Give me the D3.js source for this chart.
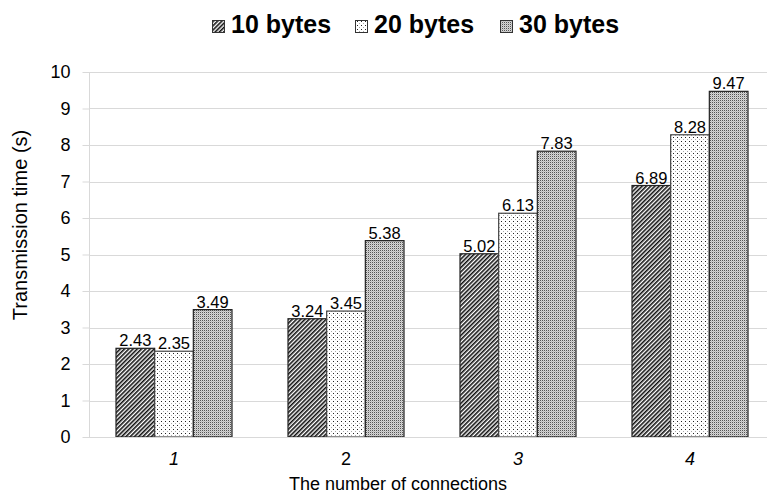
<!DOCTYPE html>
<html><head><meta charset="utf-8">
<script src="https://cdn.jsdelivr.net/npm/d3@7"></script>
<style>body{margin:0;background:#fff}svg{display:block;font-family:Arial,"Liberation Sans",sans-serif}</style>
</head><body><svg id="c" width="767" height="493"></svg>
<script>
const categories = ["1","2","3","4"];
const seriesNames = ["10 bytes","20 bytes","30 bytes"];
const bytes10 = [2.43,3.24,5.02,6.89];
const bytes20 = [2.35,3.45,6.13,8.28];
const bytes30 = [3.49,5.38,7.83,9.47];
const yTicks = [0,1,2,3,4,5,6,7,8,9,10];
const series = [bytes10, bytes20, bytes30];

const svg = d3.select("#c");
const defs = svg.append("defs");
// pattern 10 bytes: diagonal hatch
const p1 = defs.append("pattern").attr("id","p0").attr("width",3).attr("height",3)
  .attr("patternUnits","userSpaceOnUse").attr("patternTransform","rotate(45)");
p1.append("rect").attr("width",3).attr("height",3).attr("fill","#fff");
p1.append("rect").attr("width",1.6).attr("height",3).attr("fill","#111");
// pattern 20 bytes: sparse dots
const p2 = defs.append("pattern").attr("id","p1").attr("width",4).attr("height",4).attr("patternUnits","userSpaceOnUse");
p2.append("rect").attr("width",4).attr("height",4).attr("fill","#fff");
p2.append("rect").attr("x",1).attr("y",1).attr("width",1).attr("height",1).attr("fill","#222");
p2.append("rect").attr("x",3).attr("y",3).attr("width",1).attr("height",1).attr("fill","#aaa");
// pattern 30 bytes: grey fine dots
const p3 = defs.append("pattern").attr("id","p2").attr("width",2).attr("height",2).attr("patternUnits","userSpaceOnUse");
p3.append("rect").attr("width",2).attr("height",2).attr("fill","#d6d6d6");
p3.append("rect").attr("x",0).attr("y",0).attr("width",1).attr("height",1).attr("fill","#555");
p3.append("rect").attr("x",1).attr("y",1).attr("width",1).attr("height",1).attr("fill","#bbb");

const x = d3.scaleBand().domain(categories).range([88,776]).padding(0);
const groupW = 116;
const xs = d3.scaleBand().domain(d3.range(series.length)).range([0,groupW]).padding(0);
const y = d3.scaleLinear().domain([0,10]).range([437,72]);

// gridlines
svg.append("g").selectAll("line").data(yTicks.slice(1)).join("line")
  .attr("x1",89).attr("x2",767).attr("y1",d=>Math.round(y(d))+0.5).attr("y2",d=>Math.round(y(d))+0.5)
  .attr("stroke","#d9d9d9").attr("stroke-width",1);
// y axis
const yAxis = d3.axisLeft(y).tickValues(yTicks).tickSize(7).tickPadding(12).tickFormat(d3.format("d"));
const gy = svg.append("g").attr("transform","translate(89.5,0)").call(yAxis);
gy.select(".domain").attr("stroke","#d9d9d9").attr("d","M0,72V437");
gy.selectAll(".tick line").attr("stroke","#d9d9d9");
gy.selectAll(".tick text").attr("font-size",18).attr("fill","#000").attr("font-family","Arial, Liberation Sans");

// bars
const groups = svg.append("g").selectAll("g").data(categories).join("g")
  .attr("transform",d=>`translate(${x(d)+x.bandwidth()/2-groupW/2},0)`);
series.forEach((s,si)=>{
  groups.append("rect")
    .attr("x",xs(si)).attr("width",xs.bandwidth())
    .attr("y",(d,i)=>y(s[i])).attr("height",(d,i)=>y(0)-y(s[i]))
    .attr("fill",`url(#p${si})`).attr("stroke",si===1?"#444":"#222").attr("stroke-width",1.2);
  groups.append("text")
    .attr("x",xs(si)+xs.bandwidth()/2).attr("y",(d,i)=>y(s[i])-2)
    .attr("text-anchor","middle").attr("font-size",16.5).attr("fill","#000")
    .text((d,i)=>s[i].toFixed(2));
});

// x axis
svg.append("line").attr("x1",89).attr("x2",767).attr("y1",437.5).attr("y2",437.5).attr("stroke","#d9d9d9");
const xAxis = d3.axisBottom(x).tickSize(0).tickPadding(0);
const gx = svg.append("g").attr("transform","translate(0,437)").call(xAxis);
gx.select(".domain").remove();
gx.selectAll(".tick text").attr("font-size",18).attr("fill","#000").attr("dy",null).attr("y",28)
  .attr("font-style",d=>d==="2"?"normal":"italic").attr("font-family","Arial, Liberation Sans");

// axis titles
svg.append("text").attr("x",398).attr("y",490).attr("text-anchor","middle").attr("font-size",18)
  .text("The number of connections");
svg.append("text").attr("transform","translate(27,225) rotate(-90)").attr("text-anchor","middle").attr("font-size",20)
  .text("Transmission time (s)");

// legend
const legX = [212,355,500];
const leg = svg.append("g");
seriesNames.forEach((n,i)=>{
  leg.append("rect").attr("x",legX[i]+0.5).attr("y",20.5).attr("width",12).attr("height",12)
    .attr("fill",`url(#p${i})`).attr("stroke","#333").attr("stroke-width",1);
  leg.append("text").attr("x",legX[i]+19).attr("y",33).attr("font-size",25).attr("font-weight","bold").text(n);
});
</script></body></html>
